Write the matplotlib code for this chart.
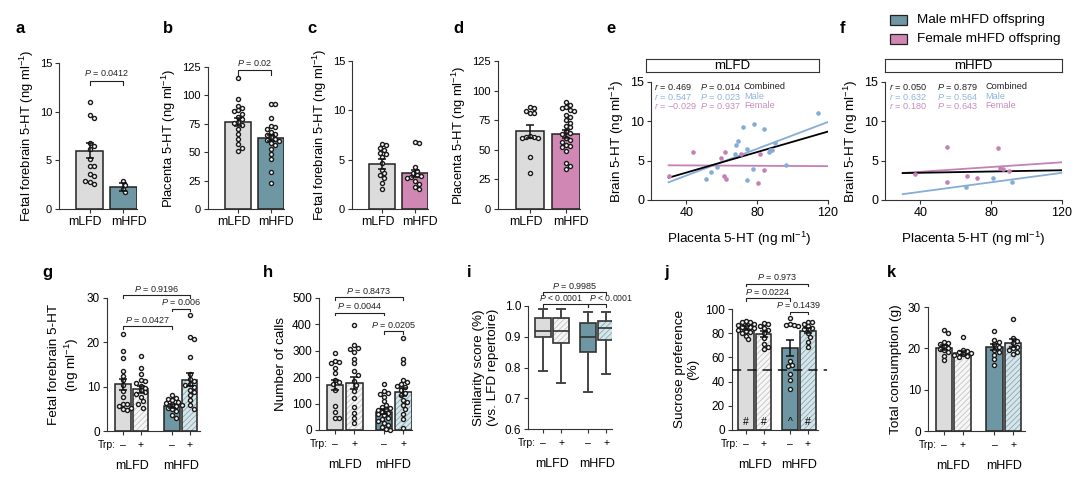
import numpy as np
import matplotlib
matplotlib.use('Agg')
import matplotlib.pyplot as plt
from matplotlib.patches import Rectangle

# ---------------- data ----------------
groups2 = ['mLFD', 'mHFD']
groups4 = ['mLFD', 'mHFD']

# a: fetal forebrain 5-HT, male offspring
a_mean = [6.0, 2.3]
a_sem = [0.8, 0.4]
a_lfd = [11.0, 9.7, 9.4, 6.8, 6.5, 6.2, 5.1, 4.4, 4.4, 3.6, 3.4, 2.8, 2.6, 2.9]
a_hfd = [2.9, 2.5, 2.1, 1.7]
# b: placenta 5-HT, male
b_mean = [77, 62.5]
b_sem = [3.5, 3.0]
b_lfd = [115, 97, 91, 89, 87, 86, 84, 81, 79, 77, 76, 74, 70, 66, 62, 57, 54, 51]
b_hfd = [92, 92, 80, 73, 72, 70, 68, 66, 65, 63, 62, 61, 60, 58, 56, 53, 48, 44, 33, 23]
# c: fetal forebrain 5-HT, female
c_mean = [4.6, 3.6]
c_sem = [0.5, 0.4]
c_lfd = [6.6, 6.5, 6.2, 6.0, 5.7, 5.6, 5.3, 4.7, 4.0, 3.6, 3.4, 3.1, 2.6, 2.0]
c_hfd = [6.8, 6.7, 4.3, 3.9, 3.6, 3.4, 3.3, 3.2, 3.1, 2.8, 2.5, 2.2, 2.0]
# d: placenta 5-HT, female
d_mean = [65.5, 63.5]
d_sem = [5.5, 3.5]
d_lfd = [86, 85, 83, 81, 81, 62, 61, 61, 60, 60, 44, 30]
d_hfd = [90, 88, 86, 85, 84, 83, 79, 78, 75, 73, 70, 69, 66, 64, 63, 60, 58, 57,
         54, 53, 52, 49, 39, 36, 34]

# e/f: placenta vs brain 5-HT
e_male_x = [51.2, 54.1, 57.2, 67.2, 68.1, 69.4, 72.2, 74.1, 74.1, 77.8, 78.2, 83.8,
            86.5, 87.2, 88.1, 90.0, 96.2, 114.6]
e_male_y = [2.7, 3.5, 4.2, 5.9, 7.0, 7.5, 9.3, 6.5, 2.5, 3.9, 9.6, 9.0,
            6.1, 6.3, 6.3, 7.3, 4.4, 11.0]
e_fem_x = [30.4, 43.7, 59.7, 61.9, 61.0, 62.1, 70.7, 80.5, 81.8, 83.8]
e_fem_y = [3.0, 6.1, 5.3, 6.1, 3.0, 2.7, 5.8, 2.1, 5.8, 3.8]
e_stats = [('0.469', '0.014', 'Combined'), ('0.547', '0.023', 'Male'),
           ('\u22120.029', '0.937', 'Female')]
f_male_x = [65.7, 80.8, 91.7]
f_male_y = [1.6, 2.8, 2.3]
f_fem_x = [37.2, 55.3, 55.3, 66.3, 72.2, 84.1, 84.7, 86.9, 90.2]
f_fem_y = [3.25, 2.3, 6.8, 3.0, 2.75, 6.6, 4.1, 3.9, 3.7]
f_stats = [('0.050', '0.879', 'Combined'), ('0.632', '0.564', 'Male'),
           ('0.180', '0.643', 'Female')]

# g: fetal forebrain 5-HT with Trp (mLFD-, mLFD+, mHFD-, mHFD+)
g_mean = [10.5, 9.4, 5.6, 11.6]
g_sem = [1.3, 0.75, 0.5, 1.45]
g_dots = [[21.8, 18.0, 16.4, 13.6, 12.5, 11.4, 10.3, 9.0, 7.7, 6.2, 6.0, 5.6, 5.3, 4.9, 4.8],
          [16.9, 14.2, 12.9, 11.5, 11.2, 10.9, 10.2, 9.8, 9.2, 8.8, 8.4, 7.7, 6.8, 6.0, 5.2],
          [8.1, 7.5, 7.3, 7.1, 6.6, 6.4, 6.0, 5.8, 5.6, 5.2, 5.0, 4.6, 3.7, 2.9],
          [26.2, 21.3, 20.7, 16.8, 12.9, 11.8, 11.2, 10.7, 10.3, 9.9, 9.2, 8.8, 8.2, 6.9, 5.8, 5.0]]
# h: number of calls
h_mean = [170, 178, 70, 145]
h_sem = [20, 22, 10, 15]
h_dots = [[293, 262, 258, 255, 235, 216, 190, 180, 175, 150, 90, 70, 45, 45],
          [399, 321, 310, 308, 296, 268, 252, 223, 210, 185, 170, 147, 120, 88, 63, 44, 25],
          [176, 147, 141, 135, 126, 110, 95, 88, 85, 79, 75, 69, 65, 59, 55, 47, 40, 34,
           25, 19, 10, 2, 0],
          [349, 268, 252, 190, 180, 176, 168, 164, 151, 140, 132, 113, 105, 94, 79, 59, 42, 6]]
# i: similarity score boxes (whislo, q1, med, q3, whishi)
i_whislo = [0.79, 0.75, 0.72, 0.78]
i_q1 = [0.90, 0.88, 0.85, 0.89]
i_med = [0.92, 0.92, 0.90, 0.93]
i_q3 = [0.96, 0.96, 0.945, 0.95]
i_whishi = [0.99, 0.99, 0.98, 0.98]
# j: sucrose preference
j_mean = [84.5, 79.5, 68, 82]
j_sem = [1.5, 2.5, 6.5, 2.2]
j_dots = [[90, 89.5, 89, 88, 87, 86, 85.5, 85, 84, 83, 82, 81, 80, 78, 75],
          [88.7, 88, 86, 84, 83, 80, 76, 71, 69, 67],
          [92.8, 88, 87, 86.5, 86, 57, 54, 53, 46, 41, 34],
          [89.5, 89, 88, 86, 84, 83.5, 80, 77, 72.5, 69]]
j_marks = ['#', '#', '^', '#']
j_chance = 50
# k: total consumption
k_mean = [20.2, 18.9, 20.3, 21.3]
k_sem = [0.6, 0.4, 0.8, 1.05]
k_dots = [[24.5, 23.7, 21.5, 21.2, 21.0, 20.5, 20.2, 19.9, 19.5, 19.1, 18.2, 17.2],
          [22.7, 19.6, 19.3, 19.0, 18.8, 18.6, 18.4, 18.2, 18.0],
          [24.2, 22.1, 21.5, 21.0, 20.4, 19.6, 19.0, 18.4, 17.4, 16.0],
          [27.1, 22.6, 21.8, 21.2, 20.4, 20.0, 19.6, 19.2, 18.6]]

# ---------------- style ----------------
plt.rcParams['font.family'] = ['Liberation Sans', 'DejaVu Sans']
plt.rcParams['mathtext.fontset'] = 'custom'
plt.rcParams['mathtext.rm'] = 'Liberation Sans'
plt.rcParams['mathtext.it'] = 'Liberation Sans:italic'
plt.rcParams['hatch.linewidth'] = 0.6

LFD = '#dcdcdc'
MALE = '#6e97a3'
FEM = '#d087b4'
LFD_T = '#f6f6f6'
MALE_T = '#d6e5e9'
LFD_H = '#c4c4c4'
MALE_H = '#86a9b4'
EDGE = '#222222'
PT_MALE = '#86acd8'
PT_FEM = '#c680b8'
TXT_MALE = '#8fb3dd'
TXT_FEM = '#c98bc1'
UNIT = 'ng ml$^{-1}$'

W, H = 1080, 484
fig = plt.figure(figsize=(W / 100, H / 100), dpi=100)


def px_axes(left, right, bottom, top):
    return fig.add_axes([left / W, 1 - bottom / H, (right - left) / W, (bottom - top) / H])


def style(ax, lsize=8):
    for s in ['top', 'right']:
        ax.spines[s].set_visible(False)
    for s in ['left', 'bottom']:
        ax.spines[s].set_linewidth(0.8)
        ax.spines[s].set_color('#333333')
    ax.tick_params(length=3, width=0.8, color='#333333', labelsize=lsize, pad=2)


def swarm(ax, x, vals, ms=2.9):
    vals = np.asarray(vals, float)
    tr = ax.transData
    pts = tr.transform(np.column_stack([np.full(len(vals), x), vals]))
    x0 = pts[0, 0]
    d = (ms * 100 / 72 + 0.8) * 0.85
    cands = [0]
    for k in range(1, 10):
        cands += [k * d * 0.5, -k * d * 0.5]
    placed, xs = [], []
    for y in pts[:, 1]:
        for off in cands:
            if all((off - px) ** 2 + (y - py) ** 2 >= d * d for px, py in placed):
                break
        placed.append((off, y))
        xs.append(x0 + off)
    dx = tr.inverted().transform(np.column_stack([xs, pts[:, 1]]))[:, 0]
    ax.plot(dx, vals, 'o', ms=ms, mfc='white', mec='#1a1a1a', mew=1.0, ls='none',
            zorder=4, clip_on=False)


def bars(ax, pos, means, sems, faces, hatched, hcols, bw, dots):
    for x, m, fc, ht, hc in zip(pos, means, faces, hatched, hcols):
        if ht:
            ax.bar(x, m, width=bw, color=fc, edgecolor=hc, hatch='//////', linewidth=0, zorder=2)
        else:
            ax.bar(x, m, width=bw, color=fc, linewidth=0, zorder=2)
        ax.bar(x, m, width=bw, facecolor='none', edgecolor=EDGE, linewidth=1.1, zorder=3)
    for x, v in zip(pos, dots):
        swarm(ax, x, v)
    ax.errorbar(pos, means, yerr=sems, fmt='none', ecolor='#111111', elinewidth=1.1,
                capsize=3, capthick=1.1, zorder=5)


def bracket(ax, x1, x2, y, txt, h, fs=6.5, tx=None, ha='center'):
    ax.plot([x1, x1, x2, x2], [y - h, y, y, y - h], color='#222222', lw=0.8,
            clip_on=False, zorder=6)
    if tx is None:
        tx = (x1 + x2) / 2
    ax.text(tx, y + h * 0.5, txt, ha=ha, va='bottom', fontsize=fs,
            clip_on=False, color='#222222')


def letter(x, y, s):
    fig.text(x / W, 1 - y / H, s, fontsize=12, fontweight='bold', ha='left', va='baseline')


# ---------------- top row a-d ----------------
top_specs = [
    (59, 137, 209, 63, a_mean, a_sem, [a_lfd, a_hfd], MALE, 15, 5,
     'Fetal forebrain 5-HT (' + UNIT + ')', ('$P$ = 0.0412', 13.2, 0.45)),
    (208, 284, 209, 67, b_mean, b_sem, [b_lfd, b_hfd], MALE, 125, 25,
     'Placenta 5-HT (' + UNIT + ')', ('$P$ = 0.02', 122, 4)),
    (352, 428, 209, 61, c_mean, c_sem, [c_lfd, c_hfd], FEM, 15, 5,
     'Fetal forebrain 5-HT (' + UNIT + ')', None),
    (498, 580, 209, 61, d_mean, d_sem, [d_lfd, d_hfd], FEM, 125, 25,
     'Placenta 5-HT (' + UNIT + ')', None),
]
for (l, r, b, t, mean, sem, dots, col, ymax, ystep, ylab, pv) in top_specs:
    ax = px_axes(l, r, b, t)
    style(ax)
    ax.set_xlim(-0.9, 1.4)
    ax.set_ylim(0, ymax)
    ax.set_yticks(np.arange(0, ymax + 1e-9, ystep))
    bars(ax, [0, 1], mean, sem, [LFD, col], [False, False], [None, None], 0.78, dots)
    ax.set_xticks([0, 1])
    ax.set_xticklabels([])
    tr = ax.get_xaxis_transform()
    for x, s, off in [(0, groups2[0], -3), (1, groups2[1], 4)]:
        ax.annotate(s, xy=(x, 0), xycoords=tr, xytext=(off, -9), textcoords='offset points',
                    ha='center', va='center', fontsize=8.8)
    ax.set_ylabel(ylab, fontsize=9.4, labelpad=3)
    if pv:
        bracket(ax, 0, 1, pv[1], pv[0], pv[2])

for x, s in [(16, 'a'), (163, 'b'), (307, 'c'), (453, 'd'), (606, 'e'), (840, 'f')]:
    letter(x, 33, s)

# ---------------- e, f correlations ----------------
xline = np.array([30, 120])
for (l, r, sl, sr, title, mx, my, fx, fy, stats, cols) in [
        (651, 828, 646, 819, 'mLFD', e_male_x, e_male_y, e_fem_x, e_fem_y, e_stats,
         (0.017, 0.277, 0.525)),
        (885, 1062, 885, 1062, 'mHFD', f_male_x, f_male_y, f_fem_x, f_fem_y, f_stats,
         (0.023, 0.294, 0.565))]:
    ax = px_axes(l, r, 200, 82)
    style(ax, 9)
    ax.set_xlim(20, 120)
    ax.set_ylim(0, 15)
    ax.set_xticks([40, 80, 120])
    ax.set_yticks([0, 5, 10, 15])
    ax.scatter(mx, my, s=11, color=PT_MALE, lw=0, zorder=3)
    ax.scatter(fx, fy, s=11, color=PT_FEM, lw=0, zorder=3)
    for xs_, ys_, c in [(mx, my, PT_MALE), (fx, fy, PT_FEM), (mx + fx, my + fy, 'black')]:
        k, b0 = np.polyfit(xs_, ys_, 1)
        ax.plot(xline, k * xline + b0, color=c, lw=1.3, zorder=2)
    for row, (rv, pvv, lab), tc in zip(range(3), stats, ['#222222', TXT_MALE, TXT_FEM]):
        yy = [0.958, 0.873, 0.797][row]
        ax.text(cols[0], yy, '$r$ = ' + rv, transform=ax.transAxes, fontsize=6.6,
                color=tc, va='center')
        ax.text(cols[1], yy, '$P$ = ' + pvv, transform=ax.transAxes, fontsize=6.6,
                color=tc, va='center')
        ax.text(cols[2], yy, lab, transform=ax.transAxes, fontsize=6.6, color=tc,
                va='center')
    ax.set_xlabel('Placenta 5-HT (' + UNIT + ')', fontsize=9.7, labelpad=8)
    ax.set_ylabel('Brain 5-HT (' + UNIT + ')', fontsize=9.7, labelpad=3)
    sax = px_axes(sl, sr, 72, 59)
    sax.set_xticks([])
    sax.set_yticks([])
    for s in sax.spines.values():
        s.set_linewidth(0.8)
        s.set_color('#333333')
    sax.text(0.5, 0.45, title, ha='center', va='center', fontsize=9.5, transform=sax.transAxes)

# legend
for yy, c, lab in [(15, MALE, 'Male mHFD offspring'), (34, FEM, 'Female mHFD offspring')]:
    fig.add_artist(Rectangle((890 / W, 1 - (yy + 10) / H), 17 / W, 10 / H,
                             transform=fig.transFigure, facecolor=c, edgecolor=EDGE, lw=0.9))
    fig.text(917 / W, 1 - (yy + 5) / H, lab, fontsize=9.7, va='center', ha='left')

# ---------------- bottom row g-k ----------------
faces4 = [LFD, LFD_T, MALE, MALE_T]
hatch4 = [False, True, False, True]
hcol4 = [None, LFD_H, None, MALE_H]
BLAB = 9.7


def trp_row(ax, pos):
    tr = ax.get_xaxis_transform()
    for x, s in zip(pos, ['\u2013', '+', '\u2013', '+']):
        ax.annotate(s, xy=(x, 0), xycoords=tr, xytext=(0, -10), textcoords='offset points',
                    ha='center', va='center', fontsize=7.5)
    ax.annotate('Trp:', xy=(pos[0], 0), xycoords=tr, xytext=(-5, -10),
                textcoords='offset points', ha='right', va='center', fontsize=7.5)
    for x, s in [((pos[0] + pos[1]) / 2, groups4[0]), ((pos[2] + pos[3]) / 2, groups4[1])]:
        ax.annotate(s, xy=(x, 0), xycoords=tr, xytext=(0, -25), textcoords='offset points',
                    ha='center', va='center', fontsize=9)


bottom = {
    'g': (107, 200, 431, 298, 1.8, 123, 17.5),
    'h': (319, 412, 430, 298, 1.55, 335, 19.2),
    'i': (528, 612, 429, 306, 1.45, 543, 18.3),
    'j': (732, 818, 430, 309, 1.5, 746, 17.7),
    'k': (928, 1025, 431, 307, 1.7, 944, 18.7),
}
axes_b = {}
for key, (l, r, b, t, gap, x0, sc) in bottom.items():
    ax = px_axes(l, r, b, t)
    style(ax, 8.5)
    ax.set_xlim((l - x0) / sc, (r - x0) / sc)
    pos = [0, 1, 1 + gap, 2 + gap]
    ax.set_xticks(pos)
    ax.set_xticklabels([])
    axes_b[key] = (ax, pos)

# g
ax, pos = axes_b['g']
ax.set_ylim(0, 30)
ax.set_yticks([0, 10, 20, 30])
bars(ax, pos, g_mean, g_sem, faces4, hatch4, hcol4, 0.88, g_dots)
ax.set_ylabel('Fetal forebrain 5-HT\n(' + UNIT + ')', fontsize=BLAB, labelpad=4)
bracket(ax, pos[0], pos[3], 30.7, '$P$ = 0.9196', 0.6)
bracket(ax, pos[2], pos[3], 27.6, '$P$ = 0.006', 0.6)
bracket(ax, pos[0], pos[2], 23.6, '$P$ = 0.0427', 0.6)
trp_row(ax, pos)

# h
ax, pos = axes_b['h']
ax.set_ylim(0, 500)
ax.set_yticks(np.arange(0, 501, 100))
bars(ax, pos, h_mean, h_sem, faces4, hatch4, hcol4, 0.88, h_dots)
ax.set_ylabel('Number of calls', fontsize=BLAB, labelpad=4)
bracket(ax, pos[0], pos[3], 504, '$P$ = 0.8473', 10)
bracket(ax, pos[0], pos[2], 445, '$P$ = 0.0044', 10)
bracket(ax, pos[2], pos[3], 374, '$P$ = 0.0205', 10)
trp_row(ax, pos)

# i
ax, pos = axes_b['i']
xl = ax.get_xlim()
stats_i = [dict(whislo=a, q1=b_, med=c, q3=d, whishi=e, fliers=[])
           for a, b_, c, d, e in zip(i_whislo, i_q1, i_med, i_q3, i_whishi)]
bp = ax.bxp(stats_i, positions=pos, widths=0.88, patch_artist=True, showfliers=False,
            manage_ticks=False,
            boxprops=dict(linewidth=1.2, edgecolor='#333333'),
            whiskerprops=dict(linewidth=1.4, color='#444444'),
            capprops=dict(linewidth=1.4, color='#444444'),
            medianprops=dict(linewidth=1.2, color='#333333'), capwidths=0.45)
for patch, fc, ht, hc in zip(bp['boxes'], faces4, hatch4, hcol4):
    patch.set_facecolor(fc)
    if ht:
        # hatched fill drawn underneath the outlined box
        vx = patch.get_path().vertices
        x1, x2 = vx[:, 0].min(), vx[:, 0].max()
        y1, y2 = vx[:, 1].min(), vx[:, 1].max()
        ax.add_patch(Rectangle((x1, y1), x2 - x1, y2 - y1, facecolor=fc, edgecolor=hc,
                               hatch='//////', lw=0, zorder=1.5))
        patch.set_facecolor('none')
        patch.set_zorder(2)
ax.set_xlim(xl)
ax.set_xticks(pos)
ax.set_xticklabels([])
ax.set_ylim(0.6, 1.0)
ax.set_yticks([0.6, 0.7, 0.8, 0.9, 1.0])
ax.set_yticklabels(['0.6', '0.7', '0.8', '0.9', '1.0'])
ax.set_ylabel('Similarity score (%)\n(vs. LFD repertoire)', fontsize=BLAB, labelpad=4)
bracket(ax, pos[0], pos[3], 1.045, '$P$ = 0.9985', 0.008)
bracket(ax, pos[0], pos[2], 1.005, '$P$ < 0.0001', 0.008, fs=6.3, tx=pos[0] - 0.2, ha='left')
bracket(ax, pos[2], pos[3], 1.005, '$P$ < 0.0001', 0.008, fs=6.3, tx=pos[2] + 0.05, ha='left')
trp_row(ax, pos)

# j
ax, pos = axes_b['j']
ax.set_ylim(0, 100)
ax.set_yticks(np.arange(0, 101, 20))
bars(ax, pos, j_mean, j_sem, faces4, hatch4, hcol4, 0.88, j_dots)
xl = ax.get_xlim()
ax.plot([xl[0], xl[1] + 0.5], [j_chance, j_chance], color='#111111', lw=1.1,
        ls=(0, (6, 4)), clip_on=False, zorder=6)
for x, m in zip(pos, j_marks):
    ax.text(x, 7, m, ha='center', va='center', fontsize=7.5, zorder=7)
ax.set_ylabel('Sucrose preference\n(%)', fontsize=BLAB, labelpad=4)
bracket(ax, pos[0], pos[3], 121, '$P$ = 0.973', 2)
bracket(ax, pos[0], pos[2], 108.8, '$P$ = 0.0224', 2)
bracket(ax, pos[2], pos[3], 97.8, '$P$ = 0.1439', 2)
trp_row(ax, pos)

# k
ax, pos = axes_b['k']
ax.set_ylim(0, 30)
ax.set_yticks([0, 10, 20, 30])
bars(ax, pos, k_mean, k_sem, faces4, hatch4, hcol4, 0.88, k_dots)
ax.set_ylabel('Total consumption (g)', fontsize=BLAB, labelpad=4)
trp_row(ax, pos)

for x, s in [(42, 'g'), (263, 'h'), (467, 'i'), (664, 'j'), (887, 'k')]:
    letter(x, 277, s)

fig.savefig('out.png', dpi=100)
